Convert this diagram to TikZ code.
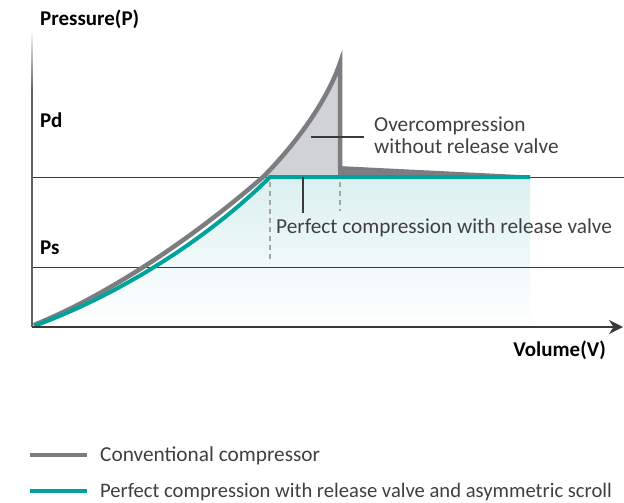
\documentclass[tikz,border=0pt]{standalone}
\usepackage{fontspec}
\setmainfont{Carlito}
\usetikzlibrary{arrows.meta}
\definecolor{curvegray}{HTML}{7C7D80}
\definecolor{areagray}{HTML}{D1D2D4}
\definecolor{scrollteal}{HTML}{00A39C}
\definecolor{fillteal}{HTML}{DAF0EF}
\definecolor{textgray}{HTML}{404040}
\definecolor{axisgray}{HTML}{3A3A3A}
\tikzset{
  lbl/.style={font=\fontsize{21.3}{22}\selectfont, text=textgray, inner sep=0pt, align=left},
  axlbl/.style={font=\fontsize{21}{22}\selectfont\bfseries, text=black, inner sep=0pt},
  levelline/.style={draw=axisgray, line width=1pt},
  leader/.style={draw=axisgray, line width=1.2pt},
  guide/.style={draw=black!35, line width=1.5pt, dash pattern=on 5pt off 4pt},
  conv/.style={draw=curvegray, line width=4.5pt},
  perfect/.style={draw=scrollteal, line width=4pt},
}

\begin{document}
\begin{tikzpicture}[x=1pt,y=-1pt]
    \useasboundingbox (0,0) rectangle (624,503);

    % axes and levels
    \coordinate (o) at (32,327);
    \coordinate (xend) at (623,327);
    \coordinate (pd0) at (32,177);
    \coordinate (pd1) at (624,177);
    \coordinate (ps0) at (32,267);
    \coordinate (ps1) at (624,267);

    % area under perfect compression
    \shade[top color=fillteal, bottom color=white]
        (32,326) .. controls (124,293) and (212,235) .. (270,177)
        -- (530,177) -- (530,327) -- (32,327) -- cycle;

    \draw[levelline] (pd0) -- (pd1);
    \draw[levelline] (ps0) -- (ps1);

    % overcompression area
    \fill[areagray] (263,177) .. controls (292,148) and (326,104) .. (340,63)
        -- (340,177) -- cycle;

    % dashed guides
    \coordinate (g1a) at (270,182);
    \coordinate (g1b) at (270,263);
    \coordinate (g2a) at (340,182);
    \coordinate (g2b) at (340,211);
    \draw[guide] (g1a) -- (g1b);
    \draw[guide] (g2a) -- (g2b);

    % conventional compressor
    \draw[conv, line join=miter]
        (34,325) .. controls (120,290) and (207,226) .. (263,177)
        .. controls (292,148) and (326,104) .. (340,63) -- (340,170);
    \fill[curvegray] (338,166) -- (530,175.5) -- (530,177) -- (338,177) -- cycle;

    % perfect compression
    \draw[perfect]
        (34,326) .. controls (124,293) and (212,235) .. (270,177) -- (530,177);

    % axes
    \shade[top color=white, bottom color=axisgray!80]
        (31.2,30) rectangle (32.8,90);
    \draw[draw=axisgray!80, line width=1.6pt] (32,89) -- (o);
    \draw[draw=axisgray, line width=2pt, -{Stealth[length=14pt,width=14pt]}] (o) -- (xend);

    % labels
    \node[axlbl, anchor=base west] (plabel) at (40,26) {Pressure(P)};
    \node[axlbl, anchor=base west] (pd) at (40,128) {Pd};
    \node[axlbl, anchor=base west] (ps) at (40,254) {Ps};
    \node[axlbl, anchor=base east] (vlabel) at (606,356) {Volume(V)};

    \node[lbl, anchor=base west] (over) at (374,131.5) {Overcompression};
    \node[lbl, anchor=base west] (over2) at (374,153.5) {without release valve};
    \coordinate (overtip) at (311,137);
    \coordinate (overend) at (364,137);
    \draw[leader] (overtip) -- (overend);
    \node[lbl, anchor=base west] (perf) at (276,233) {Perfect compression with release valve};
    \coordinate (perftop) at (303,177);
    \coordinate (perfbot) at (303,213);
    \draw[leader] (perftop) -- (perfbot);

    % legend
    \coordinate (k1a) at (30,455);
    \coordinate (k1b) at (87,455);
    \coordinate (k2a) at (30,491);
    \coordinate (k2b) at (87,491);
    \draw[draw=curvegray, line width=4pt] (k1a) -- (k1b);
    \draw[draw=scrollteal, line width=4pt] (k2a) -- (k2b);
    \node[lbl, anchor=base west] (leg1) at (100,461) {Conventional compressor};
    \node[lbl, font=\fontsize{20.6}{22}\selectfont, anchor=base west] (leg2) at (100,497)
        {Perfect compression with release valve and asymmetric scroll};
\end{tikzpicture}
\end{document}
